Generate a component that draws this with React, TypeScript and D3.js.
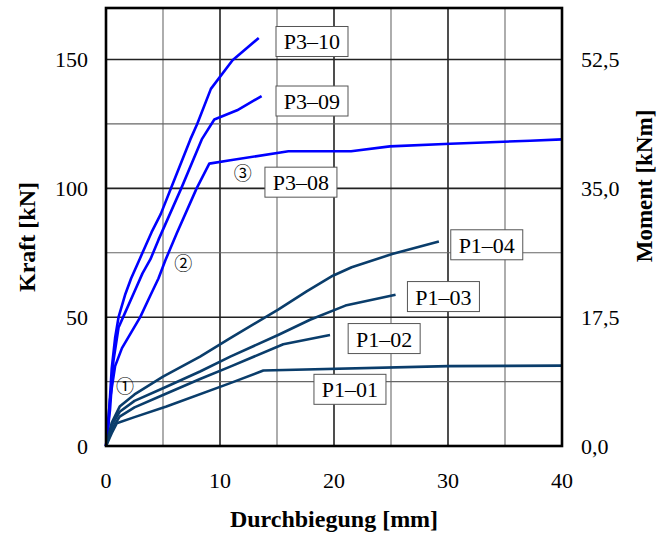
import React from 'react';
import * as d3 from 'd3';

type Pt = [number, number];

// Durchbiegung [mm], Kraft [kN]
const p3_10: Pt[] = [[0, 0], [0.2, 8], [0.5, 30], [0.8, 42], [1.1, 50], [1.7, 59], [2.2, 65], [3.0, 73], [4.0, 83], [4.8, 90], [5.7, 100], [7.4, 119], [8.0, 125], [9.2, 138.6], [11.1, 149.7], [13.4, 158.4]];
const p3_09: Pt[] = [[0, 0], [0.35, 14], [0.65, 33], [1.1, 46], [1.6, 51], [2.5, 60], [3.2, 67], [3.9, 72.5], [4.6, 80], [6.6, 100], [8.4, 119], [9.5, 126.7], [11.5, 130.3], [13.65, 135.8]];
const p3_08: Pt[] = [[0, 0], [0.35, 18], [0.8, 31], [1.4, 38], [2.2, 44], [3.0, 50], [3.9, 58.5], [4.6, 65], [5.2, 72], [6.2, 82.5], [7.95, 100], [9.06, 109.6], [10.9, 110.9], [16, 114.4], [21.5, 114.4], [24.9, 116.3], [30.2, 117.3], [37.2, 118.5], [40, 119]];
const p1_04: Pt[] = [[0, 0], [0.5, 9], [1.2, 15.3], [2.5, 20], [5.0, 26.9], [8.25, 34.7], [10.9, 41.9], [15.1, 52.9], [17.6, 60], [19.9, 66.1], [21.55, 69.4], [25.1, 74.5], [29.2, 79.4]];
const p1_03: Pt[] = [[0, 0], [0.5, 8], [1.2, 13.3], [2.5, 17.5], [5.0, 22.4], [8.25, 28.9], [10.9, 34.7], [15.1, 43.1], [17.9, 49], [21, 54.5], [25.4, 58.7]];
const p1_02: Pt[] = [[0, 0], [0.5, 6.5], [1.2, 11.4], [2.5, 15], [5.0, 19.8], [8.25, 26], [10.9, 30.8], [15.55, 39.5], [19.65, 43.1]];
const p1_01: Pt[] = [[0, 0], [0.5, 5], [0.94, 8.8], [2.5, 11.2], [5.3, 15.3], [10.9, 24.4], [13.8, 29.3], [30, 31], [40, 31.2]];

const seriesNames = ['P3–10', 'P3–09', 'P3–08', 'P1–04', 'P1–03', 'P1–02', 'P1–01'];
const seriesData = [p3_10, p3_09, p3_08, p1_04, p1_03, p1_02, p1_01];
const seriesColors = ['#0000ff', '#0000ff', '#0000ff', '#0a3d6b', '#0a3d6b', '#0a3d6b', '#0a3d6b'];
// label box centres, in data units
const labelPos: Pt[] = [[18.07, 157], [18.07, 133.9], [17.1, 102.4], [33.4, 78.1], [29.6, 58.0], [24.4, 41.7], [21.4, 22.0]];

const markers = ['①', '②', '③'];
const markerPos: Pt[] = [[1.67, 23.5], [6.78, 71.3], [12.0, 106.5]];

const xTicks = [0, 10, 20, 30, 40];
const yTicks = [0, 50, 100, 150];
const momentLabels = ['0,0', '17,5', '35,0', '52,5'];
const xGrid = d3.range(0, 41, 5);
const yGrid = d3.range(0, 170, 25);

const W = 657;
const H = 534;
const font = '"Liberation Serif", "Times New Roman", serif';

export default function App() {
  const x = d3.scaleLinear().domain([0, 40]).range([106, 562]);
  const y = d3.scaleLinear().domain([0, 170]).range([446, 8]);
  const line = d3.line<Pt>().x(d => x(d[0])).y(d => y(d[1]));

  return (
    <svg width={W} height={H} style={{ position: 'absolute', left: 0, top: 0, background: '#fff' }} fontFamily={font}>
      <rect width={W} height={H} fill="#fff" />
      {/* grid */}
      {xGrid.map(v => (
        <line key={'gx' + v} x1={x(v)} x2={x(v)} y1={y(0)} y2={y(170)}
          stroke={v % 10 === 0 ? '#222' : '#777'} strokeWidth={v % 10 === 0 ? 1.6 : 1.2} />
      ))}
      {yGrid.map(v => (
        <line key={'gy' + v} x1={x(0)} x2={x(40)} y1={y(v)} y2={y(v)}
          stroke={v % 50 === 0 ? '#222' : '#666'} strokeWidth={v % 50 === 0 ? 1.6 : 1.2} />
      ))}

      {/* curves */}
      {seriesData.map((d, i) => (
        <path key={'s' + i} d={line(d) || ''} fill="none" stroke={seriesColors[i]} strokeWidth={2.6} strokeLinejoin="round" />
      ))}

      {/* frame */}
      <rect x={x(0)} y={y(170)} width={x(40) - x(0)} height={y(0) - y(170)} fill="none" stroke="#000" strokeWidth={2.6} />

      {/* series labels */}
      {seriesNames.map((n, i) => (
        <g key={'l' + i} transform={`translate(${x(labelPos[i][0])},${y(labelPos[i][1])})`}>
          <rect x={-36} y={-15} width={72} height={30} fill="#fff" stroke="#555" strokeWidth={1} />
          <text textAnchor="middle" y={8} fontSize={22} fill="#000">{n}</text>
        </g>
      ))}

      {/* circled markers */}
      {markers.map((m, i) => (
        <text key={'m' + i} x={x(markerPos[i][0])} y={y(markerPos[i][1])} textAnchor="middle" dominantBaseline="central"
          fontSize={18} fontFamily='"Noto Sans CJK SC", "Noto Sans CJK JP", sans-serif' fill="#000">{m}</text>
      ))}

      {/* axis labels */}
      {yTicks.map(v => (
        <text key={'yl' + v} x={88} y={y(v)} dy="0.35em" textAnchor="end" fontSize={22}>{v}</text>
      ))}
      {yTicks.map((v, i) => (
        <text key={'yr' + v} x={581} y={y(v)} dy="0.35em" textAnchor="start" fontSize={22}>{momentLabels[i]}</text>
      ))}
      {xTicks.map(v => (
        <text key={'xl' + v} x={x(v)} y={488} textAnchor="middle" fontSize={22}>{v}</text>
      ))}

      <text x={334} y={527} textAnchor="middle" fontSize={24} fontWeight="bold">Durchbiegung [mm]</text>
      <text transform="translate(35,237) rotate(-90)" textAnchor="middle" fontSize={24} fontWeight="bold">Kraft [kN]</text>
      <text transform="translate(652,186) rotate(-90)" textAnchor="middle" fontSize={23} fontWeight="bold">Moment [kNm]</text>
    </svg>
  );
}
